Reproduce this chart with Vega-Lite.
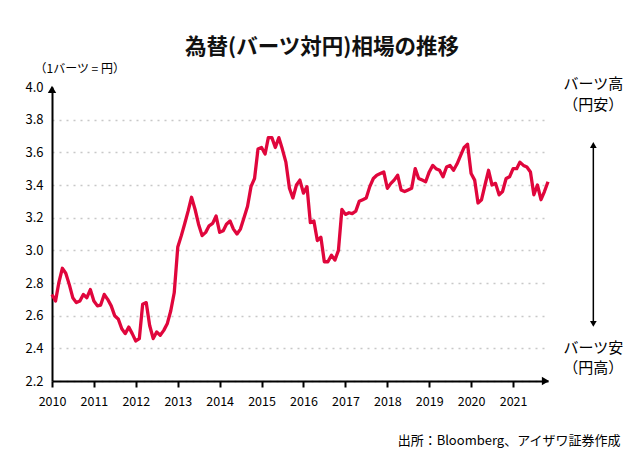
{
  "$schema": "https://vega.github.io/schema/vega-lite/v6.json",
  "width": 496,
  "height": 294,
  "autosize": "none",
  "padding": {"left": 52, "top": 87, "right": 92, "bottom": 87},
  "background": "white",
  "config": {"view": {"stroke": null}, "font": "Noto Sans CJK JP"},
  "title": {
    "text": "為替(バーツ対円)相場の推移",
    "fontSize": 21.5, "fontWeight": "bold", "color": "#111",
    "anchor": "middle", "frame": "group", "dx": 22, "offset": 4
  },
  "datasets": {
    "thb": [
      {"date": "2010-01-01", "rate": 2.73}, {"date": "2010-02-01", "rate": 2.69}, {"date": "2010-03-01", "rate": 2.80},
      {"date": "2010-04-01", "rate": 2.89}, {"date": "2010-05-01", "rate": 2.86}, {"date": "2010-06-01", "rate": 2.79},
      {"date": "2010-07-01", "rate": 2.71}, {"date": "2010-08-01", "rate": 2.68}, {"date": "2010-09-01", "rate": 2.69},
      {"date": "2010-10-01", "rate": 2.73}, {"date": "2010-11-01", "rate": 2.71}, {"date": "2010-12-01", "rate": 2.76},
      {"date": "2011-01-01", "rate": 2.69}, {"date": "2011-02-01", "rate": 2.66}, {"date": "2011-03-01", "rate": 2.665},
      {"date": "2011-04-01", "rate": 2.73}, {"date": "2011-05-01", "rate": 2.70}, {"date": "2011-06-01", "rate": 2.66},
      {"date": "2011-07-01", "rate": 2.60}, {"date": "2011-08-01", "rate": 2.58}, {"date": "2011-09-01", "rate": 2.52},
      {"date": "2011-10-01", "rate": 2.49}, {"date": "2011-11-01", "rate": 2.53}, {"date": "2011-12-01", "rate": 2.49},
      {"date": "2012-01-01", "rate": 2.445}, {"date": "2012-02-01", "rate": 2.46}, {"date": "2012-03-01", "rate": 2.67},
      {"date": "2012-04-01", "rate": 2.68}, {"date": "2012-05-01", "rate": 2.54}, {"date": "2012-06-01", "rate": 2.46},
      {"date": "2012-07-01", "rate": 2.50}, {"date": "2012-08-01", "rate": 2.48}, {"date": "2012-09-01", "rate": 2.51},
      {"date": "2012-10-01", "rate": 2.55}, {"date": "2012-11-01", "rate": 2.63}, {"date": "2012-12-01", "rate": 2.74},
      {"date": "2013-01-01", "rate": 3.02}, {"date": "2013-02-01", "rate": 3.09}, {"date": "2013-03-01", "rate": 3.16},
      {"date": "2013-04-01", "rate": 3.24}, {"date": "2013-05-01", "rate": 3.325}, {"date": "2013-06-01", "rate": 3.25},
      {"date": "2013-07-01", "rate": 3.16}, {"date": "2013-08-01", "rate": 3.09}, {"date": "2013-09-01", "rate": 3.11},
      {"date": "2013-10-01", "rate": 3.15}, {"date": "2013-11-01", "rate": 3.165}, {"date": "2013-12-01", "rate": 3.21},
      {"date": "2014-01-01", "rate": 3.11}, {"date": "2014-02-01", "rate": 3.12}, {"date": "2014-03-01", "rate": 3.16},
      {"date": "2014-04-01", "rate": 3.18}, {"date": "2014-05-01", "rate": 3.13}, {"date": "2014-06-01", "rate": 3.10},
      {"date": "2014-07-01", "rate": 3.13}, {"date": "2014-08-01", "rate": 3.20}, {"date": "2014-09-01", "rate": 3.27},
      {"date": "2014-10-01", "rate": 3.39}, {"date": "2014-11-01", "rate": 3.44}, {"date": "2014-12-01", "rate": 3.62},
      {"date": "2015-01-01", "rate": 3.63}, {"date": "2015-02-01", "rate": 3.59}, {"date": "2015-03-01", "rate": 3.69},
      {"date": "2015-04-01", "rate": 3.69}, {"date": "2015-05-01", "rate": 3.63}, {"date": "2015-06-01", "rate": 3.69},
      {"date": "2015-07-01", "rate": 3.62}, {"date": "2015-08-01", "rate": 3.54}, {"date": "2015-09-01", "rate": 3.38},
      {"date": "2015-10-01", "rate": 3.32}, {"date": "2015-11-01", "rate": 3.40}, {"date": "2015-12-01", "rate": 3.43},
      {"date": "2016-01-01", "rate": 3.35}, {"date": "2016-02-01", "rate": 3.39}, {"date": "2016-03-01", "rate": 3.17},
      {"date": "2016-04-01", "rate": 3.18}, {"date": "2016-05-01", "rate": 3.06}, {"date": "2016-06-01", "rate": 3.08},
      {"date": "2016-07-01", "rate": 2.93}, {"date": "2016-08-01", "rate": 2.93}, {"date": "2016-09-01", "rate": 2.97},
      {"date": "2016-10-01", "rate": 2.94}, {"date": "2016-11-01", "rate": 3.00}, {"date": "2016-12-01", "rate": 3.25},
      {"date": "2017-01-01", "rate": 3.22}, {"date": "2017-02-01", "rate": 3.23}, {"date": "2017-03-01", "rate": 3.225},
      {"date": "2017-04-01", "rate": 3.24}, {"date": "2017-05-01", "rate": 3.30}, {"date": "2017-06-01", "rate": 3.31},
      {"date": "2017-07-01", "rate": 3.32}, {"date": "2017-08-01", "rate": 3.39}, {"date": "2017-09-01", "rate": 3.44},
      {"date": "2017-10-01", "rate": 3.46}, {"date": "2017-11-01", "rate": 3.47}, {"date": "2017-12-01", "rate": 3.48},
      {"date": "2018-01-01", "rate": 3.38}, {"date": "2018-02-01", "rate": 3.41}, {"date": "2018-03-01", "rate": 3.43},
      {"date": "2018-04-01", "rate": 3.46}, {"date": "2018-05-01", "rate": 3.37}, {"date": "2018-06-01", "rate": 3.36},
      {"date": "2018-07-01", "rate": 3.37}, {"date": "2018-08-01", "rate": 3.38}, {"date": "2018-09-01", "rate": 3.50},
      {"date": "2018-10-01", "rate": 3.44}, {"date": "2018-11-01", "rate": 3.43}, {"date": "2018-12-01", "rate": 3.42},
      {"date": "2019-01-01", "rate": 3.48}, {"date": "2019-02-01", "rate": 3.52}, {"date": "2019-03-01", "rate": 3.50},
      {"date": "2019-04-01", "rate": 3.49}, {"date": "2019-05-01", "rate": 3.45}, {"date": "2019-06-01", "rate": 3.51},
      {"date": "2019-07-01", "rate": 3.52}, {"date": "2019-08-01", "rate": 3.49}, {"date": "2019-09-01", "rate": 3.53},
      {"date": "2019-10-01", "rate": 3.58}, {"date": "2019-11-01", "rate": 3.63}, {"date": "2019-12-01", "rate": 3.65},
      {"date": "2020-01-01", "rate": 3.47}, {"date": "2020-02-01", "rate": 3.43}, {"date": "2020-03-01", "rate": 3.29},
      {"date": "2020-04-01", "rate": 3.31}, {"date": "2020-05-01", "rate": 3.40}, {"date": "2020-06-01", "rate": 3.49},
      {"date": "2020-07-01", "rate": 3.40}, {"date": "2020-08-01", "rate": 3.41}, {"date": "2020-09-01", "rate": 3.34},
      {"date": "2020-10-01", "rate": 3.36}, {"date": "2020-11-01", "rate": 3.44}, {"date": "2020-12-01", "rate": 3.45},
      {"date": "2021-01-01", "rate": 3.50}, {"date": "2021-02-01", "rate": 3.50}, {"date": "2021-03-01", "rate": 3.54},
      {"date": "2021-04-01", "rate": 3.52}, {"date": "2021-05-01", "rate": 3.51}, {"date": "2021-06-01", "rate": 3.48},
      {"date": "2021-07-01", "rate": 3.34}, {"date": "2021-08-01", "rate": 3.40}, {"date": "2021-09-01", "rate": 3.31},
      {"date": "2021-10-01", "rate": 3.36}, {"date": "2021-11-01", "rate": 3.42}
    ],
    "notes": [
      {"date": "2022-12-01", "rate": 4.02, "label": "バーツ高"},
      {"date": "2022-12-01", "rate": 3.89, "label": "（円安）"},
      {"date": "2022-12-01", "rate": 2.40, "label": "バーツ安"},
      {"date": "2022-12-01", "rate": 2.28, "label": "（円高）"}
    ],
    "marker": [
      {"date": "2022-12-01", "rate": 3.645, "shape": "triangle-up"},
      {"date": "2022-12-01", "rate": 2.55, "shape": "triangle-down"}
    ],
    "axisend": [
      {"date": "2010-01-01", "rate": 3.985, "shape": "triangle-up"},
      {"date": "2021-10-10", "rate": 2.2, "shape": "triangle-right"}
    ],
    "span": [
      {"date": "2022-12-01", "top": 3.64, "bottom": 2.56}
    ]
  },
  "layer": [
    {
      "data": {"name": "thb"},
      "mark": {"type": "line", "color": "#e0063c", "strokeWidth": 3.3, "strokeJoin": "round"},
      "encoding": {
        "x": {
          "field": "date", "type": "temporal",
          "scale": {"domain": [{"year": 2010, "month": 1, "date": 1}, {"year": 2021, "month": 11, "date": 1}]},
          "axis": {
            "format": "%Y", "tickCount": {"interval": "year", "step": 1},
            "grid": false, "domainColor": "#000", "domainWidth": 2,
            "tickColor": "#000", "tickWidth": 2, "tickSize": 6,
            "labelFontSize": 12.5, "labelColor": "#000", "labelPadding": 8, "labelFlush": false,
            "title": "出所：Bloomberg、アイザワ証券作成",
            "titleFontSize": 13, "titleFontWeight": "normal", "titleColor": "#000",
            "titleAnchor": "end", "titleAlign": "right", "titleBaseline": "middle",
            "titleX": 568, "titleY": 59
          }
        },
        "y": {
          "field": "rate", "type": "quantitative",
          "scale": {"domain": [2.2, 4.0], "nice": false, "zero": false},
          "axis": {
            "values": [2.2, 2.4, 2.6, 2.8, 3.0, 3.2, 3.4, 3.6, 3.8, 4.0],
            "tickCount": 20,
            "format": ".1f", "ticks": false, "labelOverlap": false,
            "domainColor": "#000", "domainWidth": 2,
            "grid": true, "gridColor": "#c8c8c8", "gridDash": [2, 5], "gridWidth": 1.5,
            "gridOpacity": {"condition": {"test": "datum.value > 3.9", "value": 0}, "value": 1},
            "labelFontSize": 13, "labelColor": "#000", "labelPadding": 9,
            "title": "（1バーツ = 円）",
            "titleAngle": 0, "titleFontSize": 12, "titleFontWeight": "normal", "titleColor": "#000",
            "titleAlign": "left", "titleBaseline": "middle", "titleX": -18, "titleY": -19
          }
        }
      }
    },
    {
      "data": {"name": "span"},
      "mark": {"type": "rule", "color": "#000", "strokeWidth": 1.5},
      "encoding": {
        "x": {"field": "date", "type": "temporal"},
        "y": {"field": "top", "type": "quantitative"},
        "y2": {"field": "bottom"}
      }
    },
    {
      "data": {"name": "marker"},
      "mark": {"type": "point", "filled": true, "color": "#000", "opacity": 1, "size": 45},
      "encoding": {
        "x": {"field": "date", "type": "temporal"},
        "y": {"field": "rate", "type": "quantitative"},
        "shape": {"field": "shape", "type": "nominal", "scale": null, "legend": null}
      }
    },
    {
      "data": {"name": "axisend"},
      "mark": {"type": "point", "filled": true, "color": "#000", "opacity": 1, "size": 70},
      "encoding": {
        "x": {"field": "date", "type": "temporal"},
        "y": {"field": "rate", "type": "quantitative"},
        "shape": {"field": "shape", "type": "nominal", "scale": null, "legend": null}
      }
    },
    {
      "data": {"name": "notes"},
      "mark": {"type": "text", "fontSize": 15, "color": "#000", "align": "center", "baseline": "middle"},
      "encoding": {
        "x": {"field": "date", "type": "temporal"},
        "y": {"field": "rate", "type": "quantitative"},
        "text": {"field": "label"}
      }
    }
  ]
}
